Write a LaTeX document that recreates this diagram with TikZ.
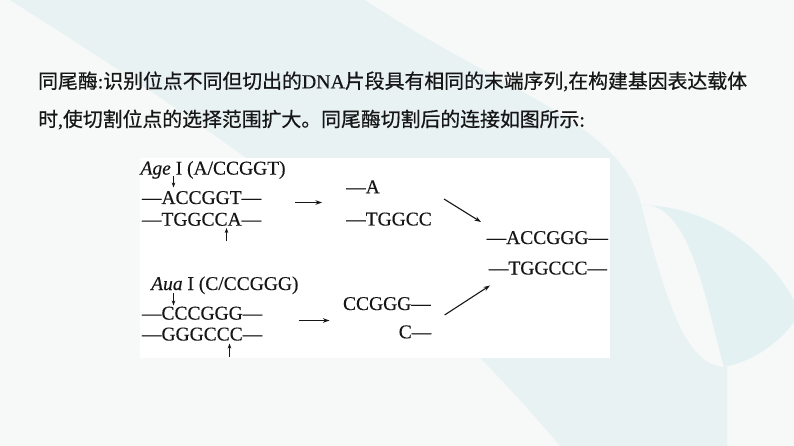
\documentclass[tikz,border=0pt]{standalone}
\usepackage{fontspec}
\setmainfont[FakeBold=0.35]{Liberation Serif}
\newfontfamily\cjk[FakeBold=0.6]{Noto Sans CJK SC}
\usetikzlibrary{arrows.meta}
\definecolor{bgbase}{HTML}{F7F8F8}
\definecolor{bgteal}{HTML}{E7F2F3}
\definecolor{bgteal2}{HTML}{DDEFF0}
\definecolor{ink}{HTML}{161616}
\tikzset{
  maintext/.style={anchor=base west,inner sep=0pt,text=ink,font=\fontsize{19.86pt}{24pt}\selectfont},
  dna/.style={anchor=base west,inner sep=0pt,text=ink,font=\fontsize{19.5pt}{23pt}\selectfont},
  dnar/.style={dna,anchor=base east},
  cutarrow/.style={-{Stealth[length=5pt,width=3.6pt]},line width=0.9pt,draw=ink},
  flowarrow/.style={-{Stealth[length=6.5pt,width=4.5pt]},line width=1.1pt,draw=ink}
}
\begin{document}
\begin{tikzpicture}[x=1pt,y=-1pt]
\useasboundingbox (0,0) rectangle (794,446);
% background
\fill[bgbase] (0,0) rectangle (794,446);
\fill[bgteal,opacity=0.85] (10,0) -- (365,0) .. controls (500,90) and (615,120) .. (640,200)
   .. controls (670,320) and (690,367) .. (727,367) -- (727,446) -- (560,446)
   .. controls (380,230) and (150,90) .. cycle;
\fill[bgteal2,opacity=0.7] (640,205) .. controls (690,200) and (705,300) .. (724,367)
   .. controls (760,360) and (785,335) .. (794,322) -- (794,300)
   .. controls (760,240) and (700,205) .. (640,205);
% white panel
\fill[white] (140.3,158.3) rectangle (610.2,357.7);
% heading text
\node[maintext] (l1) at (38,88.3) {{\cjk 同尾酶}:{\cjk 识别位点不同但切出的}DNA{\cjk 片段具有相同的末端序列},{\cjk 在构建基因表达载体}};
\node[maintext] (l2) at (38,126.5) {{\cjk 时},{\cjk 使切割位点的选择范围扩大。同尾酶切割后的连接如图所示}:};
% AgeI block
\node[dna] (age) at (140.3,174.6) {\textit{Age} I (A/CCGGT)};
\node[dna] (a1) at (141.8,204) {—ACCGGT—};
\node[dna] (a2) at (141.8,225.7) {—TGGCCA—};
\coordinate (ad1) at (173.5,176.5);
\coordinate (ad2) at (173.5,187.5);
\coordinate (au1) at (226.5,241);
\coordinate (au2) at (226.5,228);
\draw[cutarrow] (ad1) -- (ad2);
\draw[cutarrow] (au1) -- (au2);
% AuaI block
\node[dna] (aua) at (151,290) {\textit{Aua} I (C/CCGGG)};
\node[dna] (b1) at (141.8,319.6) {—CCCGGG—};
\node[dna] (b2) at (141.8,340.5) {—GGGCCC—};
\coordinate (bd1) at (173.5,293);
\coordinate (bd2) at (173.5,305.5);
\coordinate (bu1) at (229.5,357);
\coordinate (bu2) at (229.5,343.5);
\draw[cutarrow] (bd1) -- (bd2);
\draw[cutarrow] (bu1) -- (bu2);
% fragments
\node[dna] (f1) at (346,193.3) {—A};
\node[dna] (f2) at (346,225.5) {—TGGCC};
\node[dnar] (g1) at (431,310) {CCGGG—};
\node[dnar] (g2) at (431.5,338.3) {C—};
% product
\node[dna] (p1) at (486.5,244) {—ACCGGG—};
\node[dna] (p2) at (488.7,274.5) {—TGGCCC—};
% flow arrows
\coordinate (r1s) at (295,202.5);
\coordinate (r1e) at (322,202.5);
\coordinate (r3s) at (298.8,320.5);
\coordinate (r3e) at (329.5,320.5);
\coordinate (d1s) at (444,199);
\coordinate (d1e) at (481,222);
\coordinate (d2s) at (444.6,315);
\coordinate (d2e) at (490,285.5);
\draw[flowarrow] (r1s) -- (r1e);
\draw[flowarrow] (r3s) -- (r3e);
\draw[flowarrow] (d1s) -- (d1e);
\draw[flowarrow] (d2s) -- (d2e);
\end{tikzpicture}
\end{document}
